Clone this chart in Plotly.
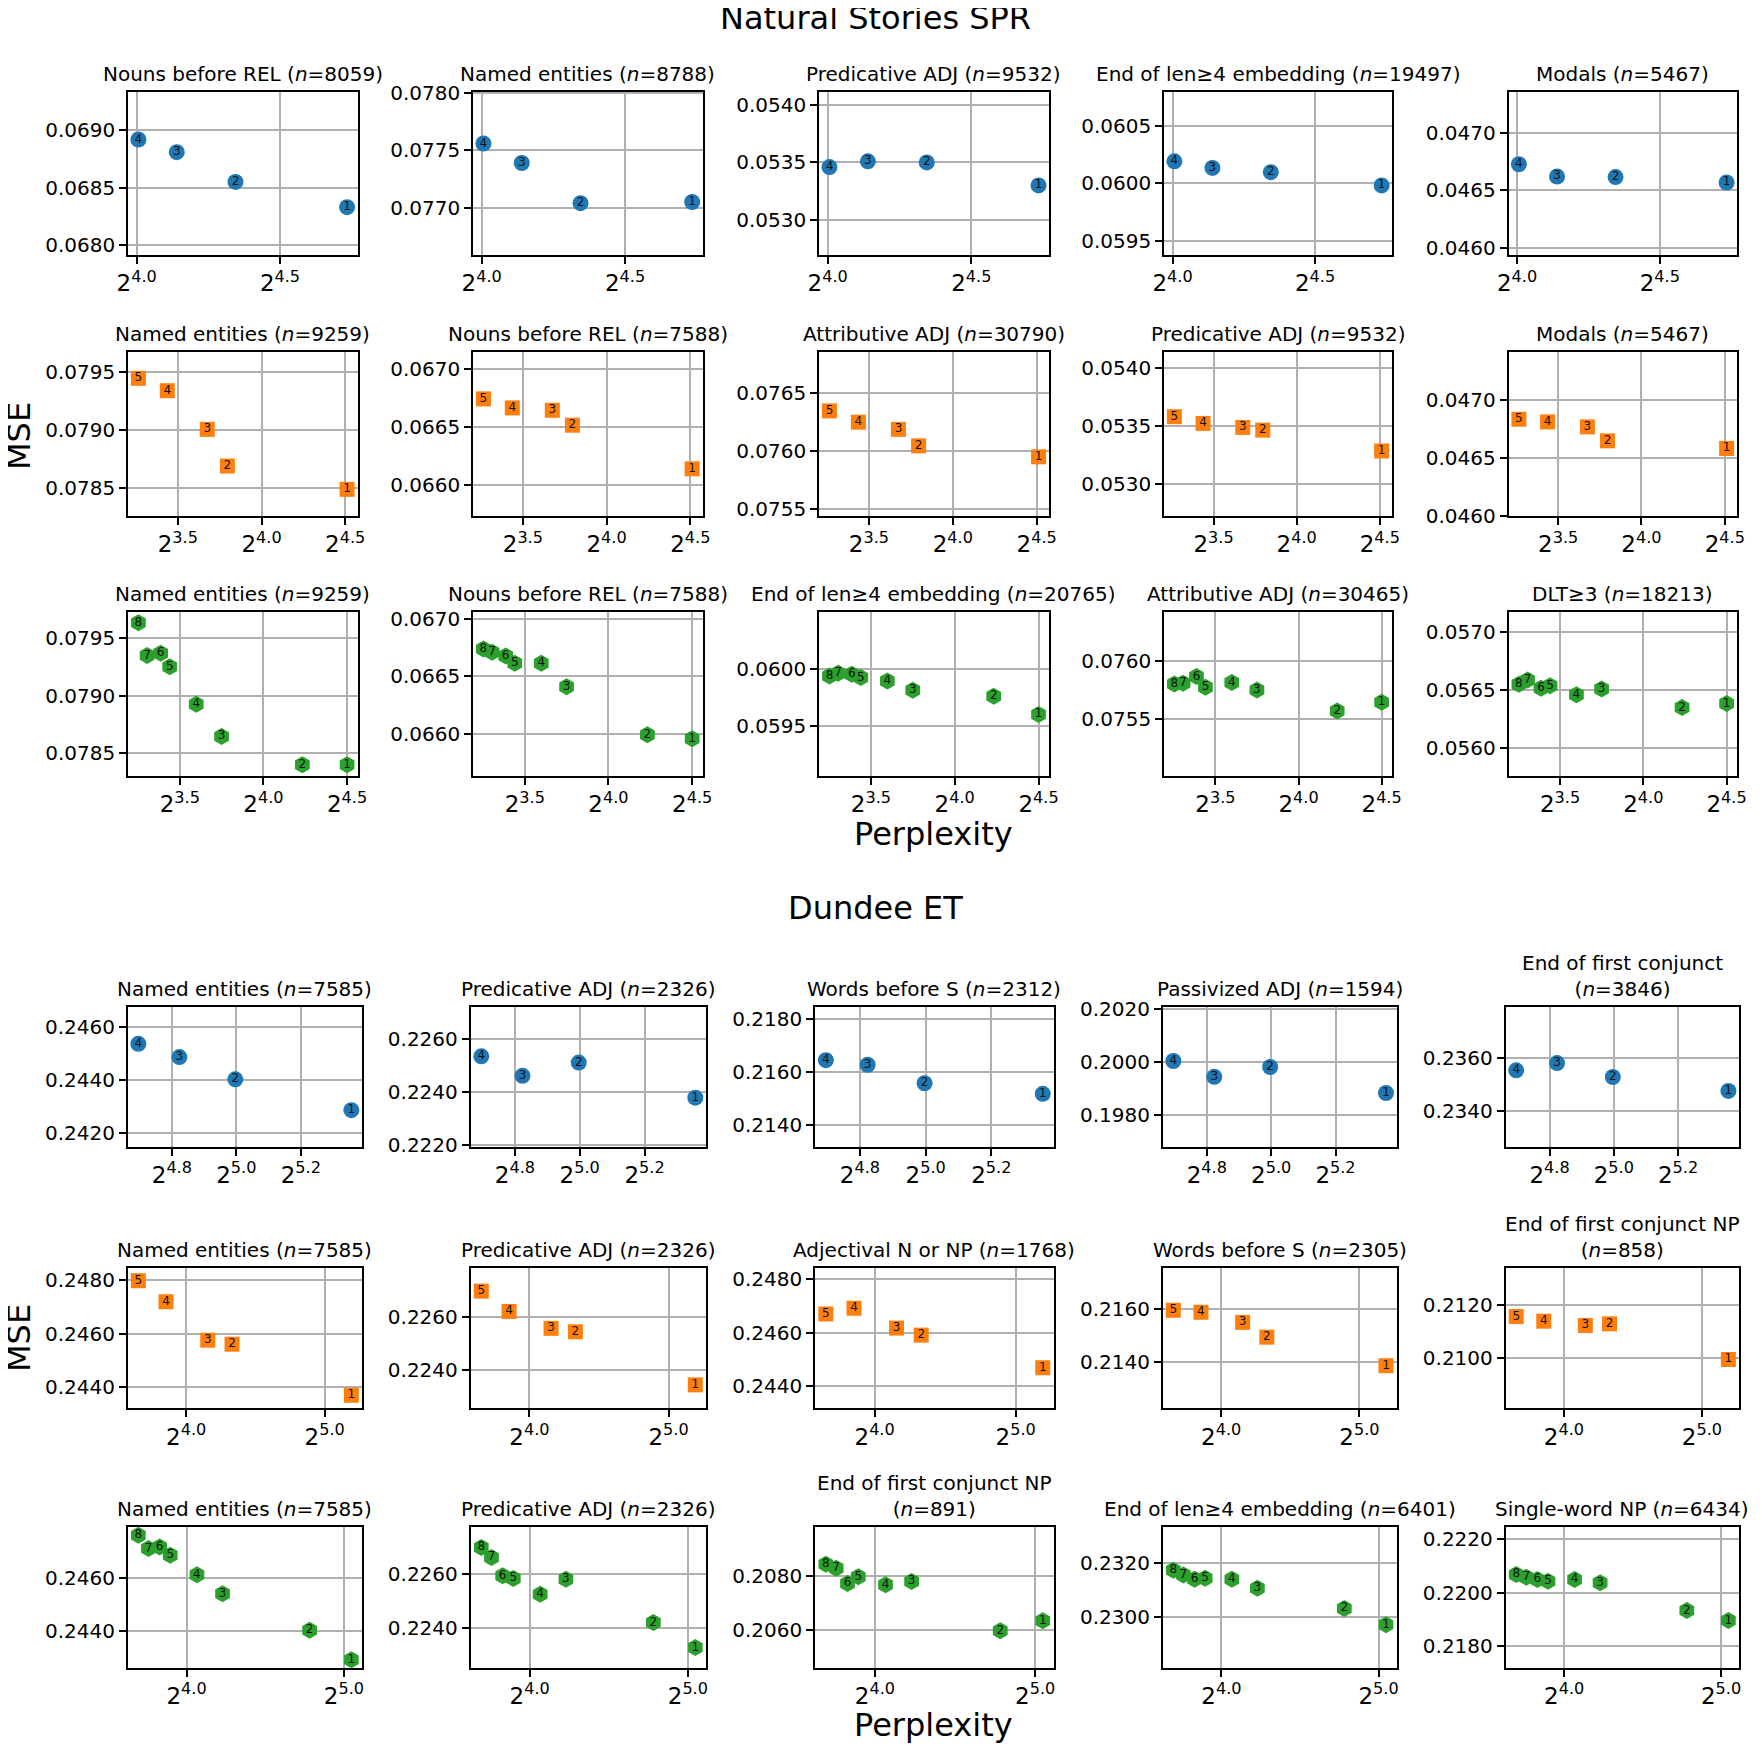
import math
import plotly.graph_objects as go

W, H = 1762, 1749
OFF = 8  # page body margin in the browser; positions below are page pixels
FONT = "DejaVu Sans"

# ---------------- data ----------------
# model labels (numbers drawn in markers)
labels_4 = ["1", "2", "3", "4"]
labels_5 = ["1", "2", "3", "4", "5"]
labels_8 = ["1", "2", "3", "4", "5", "6", "7", "8"]

# perplexities (x) per model family, Natural Stories SPR
ns_ppl_4 = [26.61, 20.32, 17.63, 16.07]
ns_ppl_5 = [22.80, 13.89, 12.78, 10.83, 9.61]
ns_ppl_8 = [22.63, 18.80, 13.45, 12.11, 10.85, 10.45, 9.88, 9.53]
# perplexities (x), Dundee ET
d_ppl_4 = [40.98, 31.93, 28.31, 25.92]
d_ppl_5 = [36.56, 20.12, 17.82, 14.46, 12.59]
d_ppl_8 = [33.06, 27.51, 18.75, 16.75, 14.89, 14.21, 13.53, 12.94]

# panel titles
ns_row1_titles = ["Nouns before REL", "Named entities", "Predicative ADJ", "End of len≥4 embedding", "Modals"]
ns_row1_n = [8059, 8788, 9532, 19497, 5467]
ns_row2_titles = ["Named entities", "Nouns before REL", "Attributive ADJ", "Predicative ADJ", "Modals"]
ns_row2_n = [9259, 7588, 30790, 9532, 5467]
ns_row3_titles = ["Named entities", "Nouns before REL", "End of len≥4 embedding", "Attributive ADJ", "DLT≥3"]
ns_row3_n = [9259, 7588, 20765, 30465, 18213]
d_row1_titles = ["Named entities", "Predicative ADJ", "Words before S", "Passivized ADJ", "End of first conjunct"]
d_row1_n = [7585, 2326, 2312, 1594, 3846]
d_row2_titles = ["Named entities", "Predicative ADJ", "Adjectival N or NP", "Words before S", "End of first conjunct NP"]
d_row2_n = [7585, 2326, 1768, 2305, 858]
d_row3_titles = ["Named entities", "Predicative ADJ", "End of first conjunct NP", "End of len≥4 embedding", "Single-word NP"]
d_row3_n = [7585, 2326, 891, 6401, 6434]

# MSE values (y), ordered by model label 1..n
ns_row1_mse = [
    [0.06833, 0.06855, 0.06881, 0.06892],
    [0.07705, 0.07704, 0.07739, 0.07756],
    [0.05330, 0.05350, 0.05351, 0.05346],
    [0.059983, 0.060098, 0.060135, 0.060193],
    [0.046569, 0.046616, 0.046621, 0.046728],
]
ns_row2_mse = [
    [0.078486, 0.078688, 0.079006, 0.079341, 0.079448],
    [0.066139, 0.066517, 0.066646, 0.066667, 0.066745],
    [0.075948, 0.076043, 0.076186, 0.076248, 0.076346],
    [0.053284, 0.053465, 0.053488, 0.053523, 0.053581],
    [0.046583, 0.046649, 0.046770, 0.046813, 0.046836],
]
ns_row3_mse = [
    [0.078401, 0.078399, 0.078645, 0.078925, 0.079249, 0.079367, 0.079346, 0.079630],
    [0.065960, 0.065994, 0.066411, 0.066614, 0.066614, 0.066677, 0.066709, 0.066737],
    [0.059602, 0.059759, 0.059811, 0.059892, 0.059922, 0.059950, 0.059959, 0.059936],
    [0.075641, 0.075565, 0.075748, 0.075812, 0.075771, 0.075864, 0.075806, 0.075800],
    [0.056381, 0.056346, 0.056506, 0.056457, 0.056535, 0.056514, 0.056584, 0.056549],
]
d_row1_mse = [
    [0.242875, 0.244038, 0.244875, 0.245375],
    [0.223800, 0.225125, 0.224625, 0.225363],
    [0.215163, 0.215563, 0.216262, 0.216436],
    [0.198820, 0.199801, 0.199429, 0.200025],
    [0.234750, 0.235275, 0.235800, 0.235525],
]
d_row2_mse = [
    [0.243688, 0.245600, 0.245750, 0.247188, 0.247975],
    [0.223443, 0.225430, 0.225557, 0.226190, 0.226949],
    [0.244692, 0.245912, 0.246176, 0.246918, 0.246704],
    [0.213862, 0.214931, 0.215484, 0.215862, 0.215937],
    [0.209963, 0.211296, 0.211235, 0.211395, 0.211568],
]
d_row3_mse = [
    [0.242925, 0.244025, 0.245400, 0.246113, 0.246838, 0.247150, 0.247088, 0.247588],
    [0.223250, 0.224188, 0.225813, 0.225250, 0.225838, 0.225938, 0.226625, 0.227000],
    [0.206338, 0.205963, 0.207813, 0.207688, 0.207988, 0.207738, 0.208313, 0.208463],
    [0.229702, 0.230311, 0.231068, 0.231404, 0.231441, 0.231404, 0.231565, 0.231739],
    [0.218963, 0.219338, 0.220375, 0.220500, 0.220438, 0.220500, 0.220588, 0.220688],
]

# x tick exponents (ticks at 2^e)
ns_xt_row1 = [4.0, 4.5]
ns_xt_row23 = [3.5, 4.0, 4.5]
d_xt_row1 = [4.8, 5.0, 5.2]
d_xt_row23 = [4.0, 5.0]

# ---------------- layout geometry (page px) ----------------
ns_cols = [(128, 357.5), (473, 702.6), (819, 1049), (1164, 1392), (1508.5, 1737)]
d_cols = [(127.7, 362), (470.6, 706), (815, 1053.6), (1162.7, 1396.6), (1505.6, 1739)]
rows_px = [(91.7, 255), (351.7, 516), (611.7, 776), (1007.3, 1146.7), (1267.7, 1408.3), (1527.3, 1667.7)]

def px_x(p):
    return (p - OFF) / W

def px_y(p):
    return 1 - (p - OFF) / H

BLUE, ORANGE, GREEN = "#1f77b4", "#ff7f0e", "#2ca02c"

rows = [
    dict(titles=ns_row1_titles, n=ns_row1_n, mse=ns_row1_mse, ppl=ns_ppl_4, lab=labels_4, xt=ns_xt_row1,
         cols=ns_cols, sym="circle", size=16, color=BLUE, half=0.000712, dtick=0.0005),
    dict(titles=ns_row2_titles, n=ns_row2_n, mse=ns_row2_mse, ppl=ns_ppl_5, lab=labels_5, xt=ns_xt_row23,
         cols=ns_cols, sym="square", size=15, color=ORANGE, half=0.000712, dtick=0.0005),
    dict(titles=ns_row3_titles, n=ns_row3_n, mse=ns_row3_mse, ppl=ns_ppl_8, lab=labels_8, xt=ns_xt_row23,
         cols=ns_cols, sym="hexagon", size=17, color=GREEN, half=0.000712, dtick=0.0005),
    dict(titles=d_row1_titles, n=d_row1_n, mse=d_row1_mse, ppl=d_ppl_4, lab=labels_4, xt=d_xt_row1,
         cols=d_cols, sym="circle", size=16, color=BLUE, half=0.00263, dtick=0.002),
    dict(titles=d_row2_titles, n=d_row2_n, mse=d_row2_mse, ppl=d_ppl_5, lab=labels_5, xt=d_xt_row23,
         cols=d_cols, sym="square", size=15, color=ORANGE, half=0.00263, dtick=0.002),
    dict(titles=d_row3_titles, n=d_row3_n, mse=d_row3_mse, ppl=d_ppl_8, lab=labels_8, xt=d_xt_row23,
         cols=d_cols, sym="hexagon", size=17, color=GREEN, half=0.00263, dtick=0.002),
]

fig = go.Figure()
layout = dict(width=W, height=H, margin=dict(l=0, r=0, t=0, b=0, pad=0, autoexpand=False),
              paper_bgcolor="white", plot_bgcolor="white", showlegend=False,
              font=dict(family=FONT, color="black"))
annotations = []

k = 0
for r, row in enumerate(rows):
    y0, y1 = rows_px[r]
    for c in range(5):
        k += 1
        x0, x1 = row["cols"][c]
        xs = row["ppl"]
        ys = row["mse"][c]
        suffix = "" if k == 1 else str(k)
        fig.add_trace(go.Scatter(
            x=xs, y=ys, mode="markers+text", text=row["lab"], textposition="middle center",
            textfont=dict(size=12, color="#111111", family=FONT),
            marker=dict(symbol=row["sym"], size=row["size"], color=row["color"], line=dict(width=0)),
            xaxis="x" + suffix, yaxis="y" + suffix, cliponaxis=False, hoverinfo="x+y"))
        lx = [math.log2(v) for v in xs]
        span = max(lx) - min(lx)
        xlo = min(lx) - 0.05 * span
        xhi = max(lx) + 0.05 * span
        ymid = (min(ys) + max(ys)) / 2
        common = dict(showline=True, mirror=True, linecolor="black", linewidth=1.6,
                      ticks="outside", ticklen=7, tickwidth=1.6, tickcolor="black",
                      showgrid=True, gridcolor="#b0b0b0", gridwidth=1.6, zeroline=False,
                      automargin=False)
        layout["xaxis" + suffix] = dict(
            common, type="log", domain=[px_x(x0), px_x(x1)], anchor="y" + suffix,
            range=[xlo * math.log10(2), xhi * math.log10(2)],
            tickmode="array", tickvals=[2 ** e for e in row["xt"]],
            ticktext=["2<sup>%.1f</sup>" % e for e in row["xt"]],
            tickfont=dict(size=23, family=FONT, color="black"))
        layout["yaxis" + suffix] = dict(
            common, domain=[px_y(y1), px_y(y0)], anchor="x" + suffix,
            range=[ymid - row["half"], ymid + row["half"]],
            tickmode="linear", tick0=0, dtick=row["dtick"], tickformat=".4f",
            tickfont=dict(size=20, family=FONT, color="black"))
        t = row["titles"][c]
        if t.startswith("End of first conjunct"):
            txt = t + "<br>(<i>n</i>=%d)" % row["n"][c]
        else:
            txt = t + " (<i>n</i>=%d)" % row["n"][c]
        annotations.append(dict(text=txt, x=px_x((x0 + x1) / 2), y=px_y(y0), xref="paper", yref="paper",
                                xanchor="center", yanchor="bottom", yshift=4, showarrow=False,
                                font=dict(size=20, family=FONT, color="black")))

big = dict(size=32, family=FONT, color="black")
def ann(text, px, py, angle=0):
    annotations.append(dict(text=text, x=px_x(px), y=px_y(py), xref="paper", yref="paper",
                            xanchor="center", yanchor="middle", showarrow=False, font=big,
                            textangle=angle))

ann("Natural Stories SPR", 875, 18)
ann("Dundee ET", 875, 908)
ann("MSE", 19, 436, -90)
ann("MSE", 19, 1338, -90)
ann("Perplexity", 934, 834)
ann("Perplexity", 934, 1725)

layout["annotations"] = annotations
fig.update_layout(**layout)
fig.write_html("out.html")
